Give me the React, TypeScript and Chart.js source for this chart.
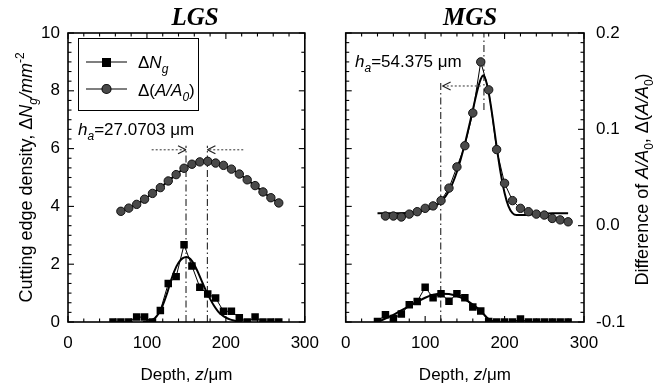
import { useEffect, useRef } from 'react';
import { Chart, registerables } from 'chart.js';

Chart.register(...registerables);

const SANS = '"Liberation Sans", Arial, Helvetica, sans-serif';
const SERIF = '"Liberation Serif", "Times New Roman", serif';

// ---------- tick labels ----------
const depthTicks = [0, 100, 200, 300];
const ngTicks = [0, 2, 4, 6, 8, 10];
const areaTicks = [-0.1, 0, 0.1, 0.2];

// ---------- LGS panel ----------
const lgsSquareDepth = [57, 67, 77, 87, 97, 107, 117, 127, 137, 147, 157, 167, 177, 187, 197, 207, 217, 227, 237, 247, 257, 267];
const lgsSquareNg = [0, 0, 0, 0.17, 0.17, 0, 0.4, 1.33, 1.57, 2.67, 1.94, 1.2, 0.97, 0.83, 0.37, 0.37, 0.15, 0, 0.17, 0, 0, 0];

const lgsFitDepth = [95, 100, 105, 110, 115, 120, 125, 130, 135, 140, 145, 150, 155, 160, 165, 170, 175, 180, 185, 190, 195, 200, 205, 210, 215, 220];
const lgsFitNg = [0, 0.02, 0.05, 0.13, 0.3, 0.58, 0.95, 1.4, 1.78, 2.05, 2.2, 2.25, 2.18, 1.98, 1.7, 1.38, 1.07, 0.8, 0.56, 0.37, 0.24, 0.15, 0.09, 0.05, 0.02, 0];

const lgsCircleDepth = [67, 77, 87, 97, 107, 117, 127, 137, 147, 157, 167, 177, 187, 197, 207, 217, 227, 237, 247, 257, 267];
const lgsCircleVal = [3.83, 3.94, 4.07, 4.25, 4.45, 4.65, 4.88, 5.1, 5.32, 5.46, 5.54, 5.56, 5.5, 5.42, 5.29, 5.12, 4.92, 4.72, 4.5, 4.3, 4.12];

const lgsGuideDepth = [149.5, 176.6];
const lgsGuideTop = 6.1;
const lgsArrowFrom = [106, 222];
const lgsArrowTo = [149.5, 176.6];
const lgsArrowLevel = 5.96;

// ---------- MGS panel ----------
const mgsSquareDepth = [40, 50, 60, 70, 80, 90, 100, 110, 120, 130, 140, 150, 160, 170, 180, 190, 200, 210, 220, 230, 240, 250, 260, 270, 280];
const mgsSquareNg = [0.02, 0.25, 0.12, 0.28, 0.6, 0.71, 1.2, 0.84, 0.98, 0.72, 0.98, 0.84, 0.52, 0.38, 0.02, 0, 0, 0, 0.1, 0, 0, 0, 0, 0, 0];

const mgsFitDepth = [40, 50, 60, 70, 80, 90, 100, 110, 120, 130, 140, 150, 160, 170, 180, 185, 190];
const mgsFitNg = [0, 0.12, 0.25, 0.4, 0.55, 0.7, 0.84, 0.94, 0.98, 0.97, 0.9, 0.78, 0.6, 0.38, 0.1, 0.03, 0];

const mgsCircleDepth = [50, 60, 70, 80, 90, 100, 110, 120, 130, 140, 150, 160, 170, 180, 190, 200, 210, 220, 230, 240, 250, 260, 270, 280];
const mgsCircleVal = [0.01, 0.01, 0.009, 0.012, 0.0145, 0.018, 0.0205, 0.026, 0.039, 0.061, 0.083, 0.117, 0.17, 0.141, 0.079, 0.044, 0.026, 0.018, 0.0145, 0.012, 0.011, 0.0075, 0.006, 0.004];

const mgsCircleFitDepth = [40, 60, 80, 100, 110, 120, 130, 140, 150, 160, 165, 170, 173, 176, 180, 185, 190, 195, 200, 205, 210, 215, 220, 240, 260, 280];
const mgsCircleFitVal = [0.013, 0.013, 0.0135, 0.016, 0.019, 0.025, 0.036, 0.056, 0.085, 0.12, 0.138, 0.152, 0.156, 0.152, 0.138, 0.112, 0.082, 0.055, 0.034, 0.02, 0.013, 0.011, 0.011, 0.012, 0.013, 0.013];

const mgsGuideDepth = [174, 119.6];
const mgsGuideTop = [0.2, 0.148];
const mgsGuideBottom = [0.12, -0.1];
const mgsArrowFrom = [170];
const mgsArrowTo = [122];
const mgsArrowLevel = 0.145;

type Seg = { t: string; i?: boolean; sub?: boolean; sup?: boolean };

const legendNg: Seg[] = [{ t: 'Δ' }, { t: 'N', i: true }, { t: 'g', i: true, sub: true }];
const legendArea: Seg[] = [{ t: 'Δ(' }, { t: 'A/A', i: true }, { t: '0', i: true, sub: true }, { t: ')' }];
const lgsHa: Seg[] = [{ t: 'h', i: true }, { t: 'a', i: true, sub: true }, { t: '=27.0703 μm' }];
const mgsHa: Seg[] = [{ t: 'h', i: true }, { t: 'a', i: true, sub: true }, { t: '=54.375 μm' }];
const xTitle: Seg[] = [{ t: 'Depth, ' }, { t: 'z', i: true }, { t: '/μm' }];
const yLeftTitle: Seg[] = [
  { t: 'Cutting edge density, Δ' }, { t: 'N', i: true }, { t: 'g', i: true, sub: true },
  { t: '/mm', i: true }, { t: '-2', sup: true },
];
const yRightTitle: Seg[] = [
  { t: 'Difference of ' }, { t: 'A/A', i: true }, { t: '0', sub: true }, { t: ', Δ(' },
  { t: 'A/A', i: true }, { t: '0', sub: true }, { t: ')' },
];

function segFont(s: Seg, size: number) {
  const sz = s.sub || s.sup ? Math.round(size * 0.68) : size;
  return `${s.i ? 'italic ' : ''}${sz}px ${SANS}`;
}

function drawRich(ctx: CanvasRenderingContext2D, segs: Seg[], x: number, y: number, size: number, align: 'left' | 'center') {
  ctx.textAlign = 'left';
  ctx.textBaseline = 'alphabetic';
  let w = 0;
  const widths = segs.map((s) => {
    ctx.font = segFont(s, size);
    const m = ctx.measureText(s.t).width;
    w += m;
    return m;
  });
  let cx = align === 'center' ? x - w / 2 : x;
  segs.forEach((s, k) => {
    ctx.font = segFont(s, size);
    const dy = s.sub ? size * 0.28 : s.sup ? -size * 0.45 : 0;
    ctx.fillText(s.t, cx, y + dy);
    cx += widths[k];
  });
}

const pts = (xs: number[], ys: number[]) => xs.map((x, i) => ({ x, y: ys[i] }));

function line(ctx: CanvasRenderingContext2D, x1: number, y1: number, x2: number, y2: number) {
  ctx.beginPath();
  ctx.moveTo(x1, y1);
  ctx.lineTo(x2, y2);
  ctx.stroke();
}

function drawFrame(chart: any, leftId: string, leftMax: number, leftMin: number, leftStep: number, leftMajor: number,
  rightId: string, rightMin: number, rightMax: number, rightStep: number, rightMajor: number) {
  const ctx: CanvasRenderingContext2D = chart.ctx;
  const a = chart.chartArea;
  const xs = chart.scales.x;
  ctx.save();
  ctx.strokeStyle = '#000';
  ctx.lineWidth = 1.1;
  ctx.setLineDash([]);
  for (let k = 0; k <= 15; k++) {
    const v = k * 20;
    const px = xs.getPixelForValue(v);
    const L = v % 100 === 0 ? 6 : 3.5;
    line(ctx, px, a.bottom, px, a.bottom - L);
    line(ctx, px, a.top, px, a.top + L);
  }
  const ls = chart.scales[leftId];
  const nL = Math.round((leftMax - leftMin) / leftStep);
  for (let k = 0; k <= nL; k++) {
    const v = leftMin + k * leftStep;
    const py = ls.getPixelForValue(v);
    const r = v / leftMajor;
    const L = Math.abs(r - Math.round(r)) < 1e-6 ? 6 : 3.5;
    line(ctx, a.left, py, a.left + L, py);
  }
  const rs = chart.scales[rightId];
  const nR = Math.round((rightMax - rightMin) / rightStep);
  for (let k = 0; k <= nR; k++) {
    const v = rightMin + k * rightStep;
    const py = rs.getPixelForValue(v);
    const r = v / rightMajor;
    const L = Math.abs(r - Math.round(r)) < 1e-6 ? 6 : 3.5;
    line(ctx, a.right, py, a.right - L, py);
  }
  ctx.lineWidth = 1.6;
  ctx.strokeRect(a.left, a.top, a.right - a.left, a.bottom - a.top);
  ctx.restore();
}

function drawArrow(ctx: CanvasRenderingContext2D, x1: number, x2: number, y: number) {
  ctx.save();
  ctx.strokeStyle = '#555';
  ctx.lineWidth = 1.2;
  ctx.setLineDash([2, 2]);
  line(ctx, x1, y, x2, y);
  ctx.setLineDash([]);
  ctx.strokeStyle = '#222';
  const d = x2 > x1 ? 1 : -1;
  line(ctx, x2 - d * 8, y - 4, x2, y);
  line(ctx, x2 - d * 8, y + 4, x2, y);
  ctx.restore();
}

function xScaleOpts() {
  return {
    type: 'linear',
    min: 0,
    max: 300,
    afterBuildTicks: (s: any) => { s.ticks = depthTicks.map((v) => ({ value: v })); },
    afterFit: (s: any) => { s.height = 65; },
    grid: { display: false, drawTicks: false },
    border: { display: false },
    ticks: { color: '#000', font: { family: SANS, size: 17 }, padding: 11, maxRotation: 0, autoSkip: false },
  };
}

const squareStyle = {
  pointStyle: 'rect',
  pointRadius: 5.3,
  backgroundColor: '#000',
  borderColor: '#000',
  pointBorderWidth: 0,
  borderWidth: 1,
  showLine: true,
};

const circleStyle = {
  pointStyle: 'circle',
  pointRadius: 4.2,
  backgroundColor: '#4a4a4a',
  pointBorderColor: '#111',
  borderColor: '#000',
  pointBorderWidth: 1,
  showLine: true,
};

const fitStyle = {
  pointRadius: 0,
  borderColor: '#000',
  borderWidth: 2,
  showLine: true,
  cubicInterpolationMode: 'monotone',
};

const guideStyle = {
  pointRadius: 0,
  borderColor: '#333',
  borderWidth: 1.2,
  borderDash: [7, 3, 1.5, 3],
  showLine: true,
};

function LgsChart() {
  const ref = useRef<HTMLCanvasElement>(null);
  useEffect(() => {
    const overlay = {
      id: 'lgsOverlay',
      afterDraw(chart: any) {
        const ctx: CanvasRenderingContext2D = chart.ctx;
        const a = chart.chartArea;
        const xs = chart.scales.x;
        const ys = chart.scales.y;
        drawFrame(chart, 'y', 10, 0, 1 / 3, 2, 'y', 0, 10, 2 / 3, 2);
        lgsArrowFrom.forEach((f, k) => {
          drawArrow(ctx, xs.getPixelForValue(f), xs.getPixelForValue(lgsArrowTo[k]), ys.getPixelForValue(lgsArrowLevel));
        });
        ctx.save();
        ctx.fillStyle = '#000';
        ctx.font = `bold italic 25px ${SERIF}`;
        ctx.textAlign = 'center';
        ctx.textBaseline = 'alphabetic';
        ctx.fillText('LGS', 195, 25);
        ctx.strokeStyle = '#000';
        ctx.lineWidth = 1;
        ctx.strokeRect(78.5, 38.5, 120, 72);
        ctx.lineWidth = 1.2;
        line(ctx, 86, 62, 127, 62);
        ctx.fillRect(102, 58, 9, 9);
        line(ctx, 86, 89, 127, 89);
        ctx.beginPath();
        ctx.arc(106.5, 89, 4.5, 0, Math.PI * 2);
        ctx.fillStyle = '#4a4a4a';
        ctx.fill();
        ctx.strokeStyle = '#111';
        ctx.stroke();
        ctx.fillStyle = '#000';
        drawRich(ctx, legendNg, 138, 68, 17, 'left');
        drawRich(ctx, legendArea, 138, 96, 17, 'left');
        drawRich(ctx, lgsHa, 78, 135, 17, 'left');
        drawRich(ctx, xTitle, (a.left + a.right) / 2, 380, 17, 'center');
        ctx.translate(32, (a.top + a.bottom) / 2);
        ctx.rotate(-Math.PI / 2);
        drawRich(ctx, yLeftTitle, 0, 0, 18, 'center');
        ctx.restore();
      },
    };
    const chart = new Chart(ref.current as HTMLCanvasElement, {
      type: 'scatter',
      data: {
        datasets: [
          { ...squareStyle, data: pts(lgsSquareDepth, lgsSquareNg), order: 0 },
          { ...circleStyle, borderWidth: 2, tension: 0.3, data: pts(lgsCircleDepth, lgsCircleVal), order: 0 },
          { ...fitStyle, data: pts(lgsFitDepth, lgsFitNg), order: 1 },
          ...lgsGuideDepth.map((g) => ({ ...guideStyle, data: pts([g, g], [0, lgsGuideTop]), order: 2 })),
        ] as any,
      },
      options: {
        animation: false,
        responsive: false,
        devicePixelRatio: 1,
        events: [],
        layout: { padding: { top: 33, right: 22, left: 0, bottom: 0 } },
        plugins: { legend: { display: false }, tooltip: { enabled: false }, title: { display: false } },
        scales: {
          x: xScaleOpts(),
          y: {
            type: 'linear',
            min: 0,
            max: 10,
            afterBuildTicks: (s: any) => { s.ticks = ngTicks.map((v) => ({ value: v })); },
            afterFit: (s: any) => { s.width = 68; },
            grid: { display: false, drawTicks: false },
            border: { display: false },
            ticks: { color: '#000', font: { family: SANS, size: 17 }, padding: 8 },
          },
        },
      } as any,
      plugins: [overlay],
    });
    return () => chart.destroy();
  }, []);
  return <canvas ref={ref} width={330} height={387} style={{ display: 'block', width: 330, height: 387 }} />;
}

function MgsChart() {
  const ref = useRef<HTMLCanvasElement>(null);
  useEffect(() => {
    const overlay = {
      id: 'mgsOverlay',
      afterDraw(chart: any) {
        const ctx: CanvasRenderingContext2D = chart.ctx;
        const a = chart.chartArea;
        const xs = chart.scales.x;
        const y2 = chart.scales.y2;
        drawFrame(chart, 'y', 10, 0, 1 / 3, 2, 'y2', -0.1, 0.2, 0.01, 0.1);
        mgsArrowFrom.forEach((f, k) => {
          drawArrow(ctx, xs.getPixelForValue(f), xs.getPixelForValue(mgsArrowTo[k]), y2.getPixelForValue(mgsArrowLevel));
        });
        ctx.save();
        ctx.fillStyle = '#000';
        ctx.font = `bold italic 25px ${SERIF}`;
        ctx.textAlign = 'center';
        ctx.textBaseline = 'alphabetic';
        ctx.fillText('MGS', 140, 25);
        drawRich(ctx, mgsHa, 25, 67, 17, 'left');
        drawRich(ctx, xTitle, (a.left + a.right) / 2, 380, 17, 'center');
        ctx.translate(318, (a.top + a.bottom) / 2 + 2);
        ctx.rotate(-Math.PI / 2);
        drawRich(ctx, yRightTitle, 0, 0, 18, 'center');
        ctx.restore();
      },
    };
    const chart = new Chart(ref.current as HTMLCanvasElement, {
      type: 'scatter',
      data: {
        datasets: [
          { ...squareStyle, yAxisID: 'y', data: pts(mgsSquareDepth, mgsSquareNg), order: 0 },
          { ...circleStyle, yAxisID: 'y2', borderWidth: 1, data: pts(mgsCircleDepth, mgsCircleVal), order: 0 },
          { ...fitStyle, yAxisID: 'y', data: pts(mgsFitDepth, mgsFitNg), order: 1 },
          { ...fitStyle, yAxisID: 'y2', data: pts(mgsCircleFitDepth, mgsCircleFitVal), order: 1 },
          ...mgsGuideDepth.map((g, k) => ({
            ...guideStyle, yAxisID: 'y2', data: pts([g, g], [mgsGuideBottom[k], mgsGuideTop[k]]), order: 2,
          })),
        ] as any,
      },
      options: {
        animation: false,
        responsive: false,
        devicePixelRatio: 1,
        events: [],
        layout: { padding: { top: 33, right: 0, left: 0, bottom: 0 } },
        plugins: { legend: { display: false }, tooltip: { enabled: false }, title: { display: false } },
        scales: {
          x: xScaleOpts(),
          y: {
            type: 'linear',
            position: 'left',
            min: 0,
            max: 10,
            afterFit: (s: any) => { s.width = 14; },
            grid: { display: false, drawTicks: false },
            border: { display: false },
            ticks: { display: false },
          },
          y2: {
            type: 'linear',
            position: 'right',
            min: -0.1,
            max: 0.2,
            afterBuildTicks: (s: any) => { s.ticks = areaTicks.map((v) => ({ value: v })); },
            afterFit: (s: any) => { s.width = 83; },
            grid: { display: false, drawTicks: false },
            border: { display: false },
            ticks: {
              color: '#000',
              font: { family: SANS, size: 17 },
              padding: 12,
              crossAlign: 'near',
              callback: (v: number) => (Math.abs(v) < 1e-9 ? '0.0' : v.toFixed(1)),
            },
          },
        },
      } as any,
      plugins: [overlay],
    });
    return () => chart.destroy();
  }, []);
  return <canvas ref={ref} width={337} height={387} style={{ display: 'block', width: 337, height: 387 }} />;
}

export default function App() {
  return (
    <div style={{ position: 'fixed', left: 0, top: 0, width: 667, height: 387, background: '#fff', overflow: 'hidden' }}>
      <div style={{ position: 'absolute', left: 0, top: 0, width: 330, height: 387 }}>
        <LgsChart />
      </div>
      <div style={{ position: 'absolute', left: 330, top: 0, width: 337, height: 387 }}>
        <MgsChart />
      </div>
    </div>
  );
}
